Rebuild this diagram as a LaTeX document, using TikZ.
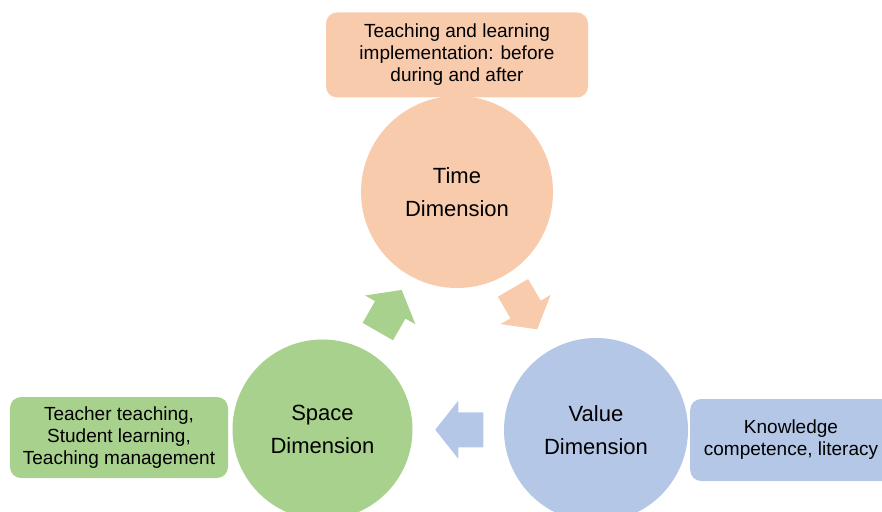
\documentclass[tikz,border=0pt]{standalone}
\usepackage{fontspec}
\setmainfont{Liberation Sans}
\usetikzlibrary{calc}

\definecolor{peach}{HTML}{F8CBAD}
\definecolor{leaf}{HTML}{A9D18E}
\definecolor{sky}{HTML}{B4C7E7}

\tikzset{
  dimcircle/.style={circle, inner sep=0pt, align=center,
    font={\fontsize{22bp}{33bp}\selectfont}},
  notefont/.style={font={\fontsize{19bp}{22bp}\selectfont}},
  notebox/.style={notefont, rounded corners=11bp, inner sep=0pt, align=center},
  blockarrow/.pic={
    \fill[pic actions] (-24,-17.5) -- (1,-17.5) -- (1,-29) -- (24,0)
      -- (1,29) -- (1,17.5) -- (-24,17.5) -- cycle;
  }
}

\begin{document}
\begin{tikzpicture}[x=1bp, y=-1bp]
  \useasboundingbox (0,0) rectangle (882,512);
  \clip (0,0) rectangle (882,512);

  % the three dimensions
  \node[dimcircle, fill=peach, minimum size=192bp] (time) at (457,192) {Time\\Dimension};
  \node[dimcircle, fill=leaf, minimum size=180bp] (space) at (322.5,429.5) {Space\\Dimension};
  \node[dimcircle, fill=sky, minimum size=184bp] (value) at (596,430) {Value\\Dimension};

  % descriptions
  \node[notebox, fill=peach, minimum width=262bp, minimum height=85bp] (timenote) at (457,55)
    {Teaching and learning\\implementation: before\\during and after};
  \node[notebox, fill=leaf, minimum width=218bp, minimum height=81bp] (spacenote) at (119,437.5)
    {Teacher teaching,\\Student learning,\\Teaching management};
  \node[notebox, fill=sky, minimum width=216bp, minimum height=82bp, anchor=west] (valuenote) at (690,440) {};
  \node[notefont, align=center, inner sep=0pt] (valuetext) at (791,440)
    {Knowledge\\competence, literacy};

  % cycle arrows between the dimensions
  \pic[fill=leaf, rotate=60.2] at ($(space)!0.5!(time)$) {blockarrow};
  \pic[fill=peach, rotate=-59.7] at ($(time)!0.49!(value)$) {blockarrow};
  \pic[fill=sky, rotate=180] at ($(value)!0.5!(space)$) {blockarrow};
\end{tikzpicture}
\end{document}
